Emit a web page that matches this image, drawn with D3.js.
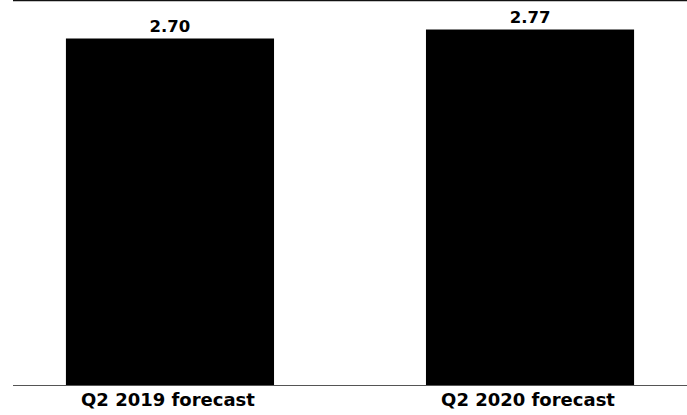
<!DOCTYPE html>
<html>
<head>
<meta charset="utf-8">
<script src="https://cdn.jsdelivr.net/npm/d3@7"></script>
<style>
  body { margin: 0; background: #fff; }
  text { font-family: "DejaVu Sans", sans-serif; font-weight: bold; }
</style>
</head>
<body>
<div id="container"></div>
<script>
/* DATA */
const categories = ["Q2 2019 forecast", "Q2 2020 forecast"];
const values = [2.70, 2.77];

/* CONSTANTS */
const width = 687;
const height = 415;
const margin = { top: 0, left: 13, right: 0, bottom: 30 };

/* SCALES */
const xScale = d3
  .scaleBand()
  .domain(categories)
  .range([margin.left, width - margin.right])
  .paddingInner(0.422)
  .paddingOuter(0.147);

const yScale = d3
  .scaleLinear()
  .domain([0, 3])
  .range([height - margin.bottom, margin.top]);

/* SVG */
const svg = d3
  .select("#container")
  .append("svg")
  .attr("width", width)
  .attr("height", height);

// top rule
svg
  .append("line")
  .attr("x1", margin.left)
  .attr("x2", width)
  .attr("y1", yScale(3) + 0.5)
  .attr("y2", yScale(3) + 0.5)
  .attr("stroke", "#111")
  .attr("stroke-width", 1.5);

// bars
svg
  .selectAll(".bar")
  .data(values)
  .join("rect")
  .attr("class", "bar")
  .attr("x", (d, i) => xScale(categories[i]))
  .attr("y", (d) => yScale(d))
  .attr("width", xScale.bandwidth())
  .attr("height", (d) => yScale(0) - yScale(d))
  .attr("fill", "#000");

// baseline
svg
  .append("line")
  .attr("x1", margin.left)
  .attr("x2", width)
  .attr("y1", yScale(0) + 0.5)
  .attr("y2", yScale(0) + 0.5)
  .attr("stroke", "#555")
  .attr("stroke-width", 1);

// value labels
svg
  .selectAll(".value")
  .data(values)
  .join("text")
  .attr("class", "value")
  .attr("x", (d, i) => xScale(categories[i]) + xScale.bandwidth() / 2)
  .attr("y", (d) => yScale(d) - 7)
  .attr("text-anchor", "middle")
  .style("font-size", "16.5px")
  .text((d) => d.toFixed(2));

// category labels
const xAxis = svg
  .append("g")
  .attr("transform", `translate(0,${yScale(0)})`)
  .call(d3.axisBottom(xScale).tickSize(0).tickPadding(8));
xAxis.select(".domain").remove();
xAxis
  .selectAll("text")
  .attr("fill", "#000")
  .attr("dx", "-2")
  .style("font-size", "18px")
  .style("font-family", "'DejaVu Sans', sans-serif")
  .style("font-weight", "bold");
</script>
</body>
</html>
